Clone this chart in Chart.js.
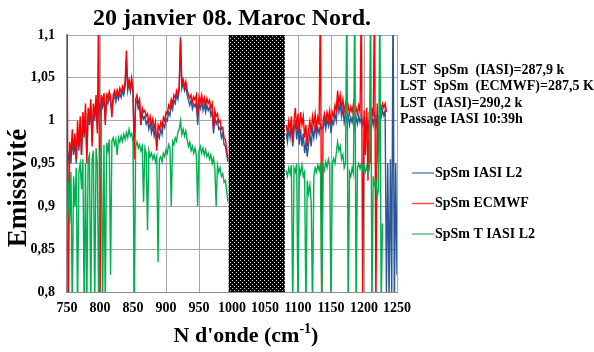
<!DOCTYPE html>
<html>
<head>
<meta charset="utf-8">
<script src="https://cdn.jsdelivr.net/npm/chart.js@4.4.1/dist/chart.umd.min.js"></script>
<style>
  body { margin: 0; background: #fff; }
  canvas { display: block; }
</style>
</head>
<body>
<canvas id="emisChart" width="594" height="352"></canvas>
<script>
// spectral sampling (cm-1), two windows either side of the ozone band
const wnLeftStart = 750, wnLeftEnd = 994;
const wnRightStart = 1082, wnRightEnd = 1250;
const wnStep = 2;
const bandStart = 995, bandEnd = 1080;

const yTicks = [0.8, 0.85, 0.9, 0.95, 1, 1.05, 1.1];
const xTicks = [750, 800, 850, 900, 950, 1000, 1050, 1100, 1150, 1200, 1250];

const seriesNames = ['SpSm IASI L2', 'SpSm ECMWF', 'SpSm T IASI L2'];

// SpSm IASI L2
const iasiLeft = [
  0.97, 0.955, 0.965, 0.95, 0.98, 0.96, 0.975, 0.95, 0.99, 0.965,
  0.998, 0.96, 1.0, 0.98, 1.012, 0.96, 1.008, 0.995, 1.018, 0.975,
  1.014, 1.0, 1.022, 0.99, 1.02, 1.01, 1.024, 1.016, 1.026, 1.0,
  1.024, 1.02, 1.028, 1.022, 1.01, 1.024, 1.03, 1.022, 1.03, 1.025,
  1.032, 1.027, 1.034, 1.03, 1.04, 1.07, 1.035, 1.044, 1.034, 1.046,
  1.03, 0.965, 1.02, 1.024, 1.014, 1.018, 0.995, 1.008, 1.002, 1.005,
  0.996, 1.0, 0.99, 0.997, 0.986, 0.994, 0.982, 0.99, 0.97, 0.986,
  0.98, 0.99, 0.984, 0.996, 0.992, 1.002, 1.0, 1.01, 1.006, 1.018,
  1.013, 1.024, 1.02, 1.03, 1.025, 1.036, 1.098, 1.038, 1.044, 1.035,
  1.04, 1.03, 1.024, 1.018, 1.024, 1.014, 1.02, 1.016, 1.022, 0.995,
  1.02, 1.014, 1.022, 1.012, 1.02, 1.01, 1.018, 1.012, 1.016, 1.006,
  1.012, 0.985, 1.004, 0.996, 1.0, 0.99, 0.992, 0.98, 0.985, 0.972,
  0.97, 0.96, 0.952
];
const iasiRight = [
  0.985, 0.975, 0.99, 0.98, 0.995, 0.97, 0.988, 1.0, 0.978, 0.995,
  0.972, 0.99, 0.97, 0.985, 0.962, 0.975, 0.958, 0.972, 0.985, 0.97,
  0.99, 0.98, 0.995, 0.982, 0.992, 0.985, 0.995, 0.99, 0.992, 1.0,
  0.99, 1.002, 0.994, 1.004, 0.985, 1.0, 0.996, 1.008, 1.0, 1.025,
  1.01, 1.02, 1.005, 1.014, 0.998, 1.008, 1.0, 1.006, 0.995, 1.004,
  0.998, 1.008, 0.992, 1.004, 0.996, 1.006, 0.998, 1.004, 0.995, 1.002,
  0.99, 1.005, 0.985, 1.0, 0.99, 1.004, 0.995, 1.006, 0.99, 1.008,
  1.0, 1.01, 1.004, 1.012, 1.006, 1.012, 0.8, 0.95, 0.79, 0.955,
  0.8, 1.15, 0.78, 0.95, 0.82
];

// SpSm ECMWF
const ecmwfLeft = [
  1.15, 0.78, 0.975, 0.96, 0.99, 0.965, 0.985, 0.955, 1.0, 0.97,
  1.005, 0.96, 1.01, 0.985, 1.02, 0.95, 1.015, 1.0, 1.025, 0.97,
  1.02, 1.005, 1.03, 0.985, 1.15, 0.78, 1.03, 1.022, 1.032, 0.995,
  1.03, 1.026, 1.034, 1.028, 1.004, 1.03, 1.035, 1.028, 1.036, 1.03,
  1.038, 1.033, 1.04, 1.035, 1.045, 1.082, 1.04, 1.048, 1.038, 1.05,
  1.035, 0.955, 1.025, 1.03, 1.02, 1.025, 0.995, 1.015, 1.01, 1.012,
  1.005, 1.008, 0.998, 1.005, 0.995, 1.002, 0.99, 0.998, 0.965, 0.995,
  0.99, 0.998, 0.992, 1.004, 1.0, 1.01, 1.008, 1.018, 1.014, 1.025,
  1.02, 1.03, 1.026, 1.035, 1.03, 1.04, 1.095, 1.042, 1.048, 1.04,
  1.046, 1.036, 1.03, 1.026, 1.03, 1.022, 1.028, 1.024, 1.03, 1.005,
  1.028, 1.022, 1.03, 1.02, 1.027, 1.018, 1.026, 1.02, 1.024, 1.015,
  1.02, 0.99, 1.012, 1.005, 1.008, 0.998, 1.0, 0.99, 0.992, 0.98,
  0.978, 0.965, 0.955
];
const ecmwfRight = [
  0.995, 0.985, 1.0, 0.99, 1.005, 0.975, 1.0, 1.015, 0.99, 1.008,
  0.985, 1.01, 0.995, 1.005, 0.98, 0.995, 0.97, 0.99, 1.0, 0.985,
  1.005, 0.995, 1.008, 0.992, 1.004, 0.995, 1.15, 0.78, 1.0, 1.008,
  0.998, 1.01, 1.002, 1.012, 0.995, 1.01, 1.005, 1.018, 1.012, 1.035,
  1.02, 1.03, 1.015, 1.025, 1.01, 1.02, 1.012, 1.018, 1.008, 1.016,
  1.01, 1.02, 1.005, 1.015, 1.008, 1.018, 1.01, 1.15, 0.78, 1.012,
  0.96, 1.015, 0.93, 1.01, 0.95, 1.015, 1.005, 1.15, 0.78, 1.02,
  0.95, 1.022, 1.012, 1.02, 1.015, 1.02, 1.01, null, null, null,
  null, null, null, null, null
];

// SpSm T IASI L2
const tIasiLeft = [
  0.86, 0.93, 0.88, 0.94, 0.78, 0.935, 0.9, 0.945, 0.78, 0.94,
  0.95, 0.92, 0.955, 0.78, 0.95, 0.78, 0.955, 0.96, 0.78, 0.955,
  0.965, 0.78, 0.968, 0.95, 0.78, 0.962, 0.97, 0.78, 0.972, 0.78,
  0.974, 0.965, 0.978, 0.82, 0.976, 0.98, 0.972, 0.978, 0.96, 0.98,
  0.975, 0.982, 0.976, 0.984, 0.978, 0.986, 0.98, 0.99, 0.982, 0.985,
  0.975, 0.78, 0.97, 0.975, 0.968, 0.972, 0.965, 0.97, 0.905, 0.968,
  0.962, 0.872, 0.965, 0.958, 0.962, 0.955, 0.96, 0.952, 0.958, 0.835,
  0.955, 0.958, 0.952, 0.962, 0.958, 0.966, 0.962, 0.972, 0.968, 0.9,
  0.976, 0.972, 0.98, 0.976, 0.986, 0.99, 1.0, 0.984, 0.99, 0.982,
  0.988, 0.978, 0.97, 0.975, 0.965, 0.97, 0.962, 0.968, 0.96, 0.9,
  0.965, 0.97, 0.962, 0.968, 0.96, 0.966, 0.958, 0.962, 0.955, 0.96,
  0.95, 0.956, 0.945, 0.9, 0.948, 0.94, 0.945, 0.935, 0.938, 0.928,
  0.93, 0.918, 0.905
];
const tIasiRight = [
  0.942, 0.935, 0.945, 0.938, 0.948, 0.78, 0.945, 0.94, 0.95, 0.78,
  0.945, 0.938, 0.948, 0.935, 0.94, 0.78, 0.93, 0.915, 0.925, 0.905,
  0.78, 0.935, 0.945, 0.94, 0.948, 0.942, 0.95, 0.78, 0.948, 0.942,
  0.952, 0.945, 0.955, 0.948, 0.78, 0.95, 0.956, 0.95, 0.962, 0.975,
  0.965, 0.97, 0.955, 0.96, 0.945, 0.95, 1.15, 0.78, 0.94, 0.935,
  0.945, 0.938, 1.15, 0.78, 0.945, 0.95, 0.944, 0.95, 0.942, 0.948,
  0.94, 0.946, 0.938, 0.944, 1.15, 0.78, 0.935, 0.925, 0.93, 0.91,
  0.92, 1.15, 0.78, 0.88, null, null, null, null, null, null,
  null, null, null, null, null
];

const infoLines = [
  'LST  SpSm  (IASI)=287,9 k',
  'LST  SpSm  (ECMWF)=287,5 K',
  'LST  (IASI)=290,2 k',
  'Passage IASI 10:39h'
];

const wnLeft = [];
for (let w = wnLeftStart; w <= wnLeftEnd; w += wnStep) wnLeft.push(w);
const wnRight = [];
for (let w = wnRightStart; w <= wnRightEnd; w += wnStep) wnRight.push(w);

function toPoints(left, right) {
  const pts = wnLeft.map((x, i) => ({ x: x, y: left[i] }));
  pts.push({ x: (bandStart + bandEnd) / 2, y: null });
  wnRight.forEach((x, i) => pts.push({ x: x, y: right[i] }));
  return pts;
}

const serif = '"Liberation Serif", "Times New Roman", serif';
const colors = ['#2a5596', '#ff0000', '#00b050'];

// black band with white dots, like the excel pattern fill
function makePattern(ctx) {
  const c = document.createElement('canvas');
  c.width = 4; c.height = 4;
  const p = c.getContext('2d');
  p.fillStyle = '#000';
  p.fillRect(0, 0, 4, 4);
  p.fillStyle = '#d8d8d8';
  p.fillRect(0, 0, 1, 1);
  p.fillRect(2, 2, 1, 1);
  return ctx.createPattern(c, 'repeat');
}

const bandPlugin = {
  id: 'band',
  beforeDatasetsDraw(chart) {
    const { ctx, chartArea, scales } = chart;
    const x0 = scales.x.getPixelForValue(bandStart);
    const x1 = scales.x.getPixelForValue(bandEnd);
    ctx.save();
    ctx.fillStyle = makePattern(ctx);
    ctx.fillRect(x0, chartArea.top, x1 - x0, chartArea.bottom - chartArea.top);
    ctx.restore();
  }
};

const textPlugin = {
  id: 'texts',
  afterDraw(chart) {
    const { ctx, chartArea } = chart;
    const midX = (chartArea.left + chartArea.right) / 2;
    ctx.save();
    ctx.fillStyle = '#000';

    // title
    ctx.font = 'bold 24px ' + serif;
    ctx.textAlign = 'center';
    ctx.textBaseline = 'middle';
    ctx.fillText('20 janvier 08. Maroc Nord.', midX, 19);

    // y axis title
    ctx.save();
    ctx.translate(19, 188);
    ctx.rotate(-Math.PI / 2);
    ctx.font = 'bold 27px ' + serif;
    ctx.fillText('Emissivité', 0, 0);
    ctx.restore();

    // x axis title with superscript
    ctx.textAlign = 'left';
    ctx.textBaseline = 'alphabetic';
    const part1 = "N d'onde (cm";
    ctx.font = 'bold 14px ' + serif;
    const wSup = ctx.measureText('-1').width;
    ctx.font = 'bold 22px ' + serif;
    const w1 = ctx.measureText(part1).width;
    const w2 = ctx.measureText(')').width;
    let x = 246 - (w1 + wSup + w2) / 2;
    const base = 342;
    ctx.fillText(part1, x, base);
    x += w1;
    ctx.font = 'bold 14px ' + serif;
    ctx.fillText('-1', x, base - 9);
    x += wSup;
    ctx.font = 'bold 22px ' + serif;
    ctx.fillText(')', x, base);

    // info block
    ctx.font = 'bold 14px ' + serif;
    ctx.textBaseline = 'middle';
    infoLines.forEach((t, i) => ctx.fillText(t, 400, 70 + i * 16.6));

    // legend
    chart.data.datasets.forEach((ds, i) => {
      const y = 173 + i * 30.5;
      ctx.strokeStyle = ds.borderColor;
      ctx.lineWidth = 1.5;
      ctx.globalAlpha = 0.7;
      ctx.beginPath();
      ctx.moveTo(412, y);
      ctx.lineTo(434, y);
      ctx.stroke();
      ctx.globalAlpha = 1;
      ctx.fillText(ds.label, 435, y);
    });
    ctx.restore();
  }
};

const tickFont = { family: serif, size: 14, weight: 'bold' };

const ctx = document.getElementById('emisChart').getContext('2d');
new Chart(ctx, {
  type: 'line',
  data: {
    datasets: [
      { label: seriesNames[0], data: toPoints(iasiLeft, iasiRight), borderColor: colors[0], order: 3 },
      { label: seriesNames[1], data: toPoints(ecmwfLeft, ecmwfRight), borderColor: colors[1], order: 2 },
      { label: seriesNames[2], data: toPoints(tIasiLeft, tIasiRight), borderColor: colors[2], order: 1 }
    ]
  },
  options: {
    responsive: false,
    animation: false,
    layout: { padding: { top: 35, right: 197, left: 0, bottom: 0 } },
    elements: {
      point: { radius: 0 },
      line: { borderWidth: 1.4, tension: 0 }
    },
    scales: {
      x: {
        type: 'linear',
        min: xTicks[0],
        max: xTicks[xTicks.length - 1],
        afterFit: s => { s.height = 60; },
        afterBuildTicks: s => { s.ticks = xTicks.map(v => ({ value: v })); },
        ticks: {
          font: tickFont, color: '#000', padding: 8, maxRotation: 0, autoSkip: false,
          callback: v => String(v)
        },
        grid: { color: '#a6a6a6', drawTicks: false },
        border: { color: '#8c8c8c', width: 1 }
      },
      y: {
        min: yTicks[0],
        max: yTicks[yTicks.length - 1],
        afterFit: s => { s.width = 67; },
        afterBuildTicks: s => { s.ticks = yTicks.map(v => ({ value: v })); },
        ticks: {
          font: tickFont,
          color: '#000',
          padding: 12,
          callback: v => String(Math.round(v * 100) / 100).replace('.', ',')
        },
        grid: { color: '#a6a6a6', drawTicks: false },
        border: { color: '#8c8c8c', width: 2 }
      }
    },
    plugins: {
      legend: { display: false },
      tooltip: { enabled: false },
      title: { display: false }
    }
  },
  plugins: [bandPlugin, textPlugin]
});
</script>
</body>
</html>
